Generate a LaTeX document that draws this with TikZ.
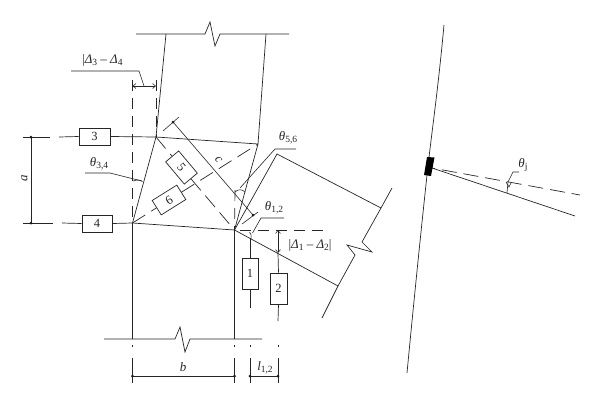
\documentclass[tikz,border=0pt]{standalone}
\usepackage{fontspec}
\setmainfont{Liberation Serif}
\newcommand{\lowidx}[1]{\raisebox{-0.35ex}{\fontsize{9.5}{10}\selectfont #1}}
\newcommand{\gr}[1]{\textit{#1}}
\usetikzlibrary{arrows.meta}
\tikzset{
  ln/.style={draw=black!85,line width=0.7pt},
  dsh/.style={ln,dash pattern=on 11pt off 7pt},
  dshlong/.style={ln,dash pattern=on 15pt off 7pt},
  thin ln/.style={draw=black!85,line width=0.6pt},
  box/.style={ln,fill=white,minimum width=#1,inner sep=0pt,font=\fontsize{12.5}{13}\selectfont,text=black!85},
  lbl/.style={inner sep=0pt,font=\fontsize{13}{14}\selectfont,text=black!85},
  dimarr/.style={thin ln,{Straight Barb[length=3pt,width=5pt]}-{Straight Barb[length=3pt,width=5pt]}},
  dot/.style={circle,fill=black!90,inner sep=0pt,minimum size=3pt},
}
\begin{document}
\begin{tikzpicture}[x=1pt,y=-1pt]
\useasboundingbox (0,0) rectangle (600,405);
% joints
\coordinate (A) at (156,137);
\coordinate (B) at (258,144);
\coordinate (C) at (132.5,223);
\coordinate (D) at (234.5,230);
% boxes
\node[box=31pt,minimum height=17pt] (b3) at (94.5,136.5) {3};
\node[box=30pt,minimum height=17pt] (b4) at (97,223.5) {4};
\node[box=29pt,minimum height=17pt,rotate=-50] (b5) at (181.5,167.5) {5};
\node[box=29pt,minimum height=17pt,rotate=32] (b6) at (169,200) {6};
\node[box=16pt,minimum height=31pt] (b1) at (250,273.5) {1};
\node[box=17pt,minimum height=31pt] (b2) at (278.5,288.5) {2};
% top member
\draw[ln] (136,34) -- (205,34) -- (210,22) -- (215,46) -- (220,34) -- (289,34);
\draw[ln] (166,34) -- (A);
\draw[ln] (266,34) -- (B);
% bottom member
\draw[ln] (104,339) -- (175,339) -- (180,327) -- (185,352) -- (190,339) -- (262,339);
\draw[ln] (C) -- (132.5,339);
\draw[ln] (D) -- (234.5,339);
% panel
\draw[ln] (A) -- (B) -- (D) -- (C) -- cycle;
% spring lines
\draw[ln] (23,137) -- (50,137);
\draw[ln] (59,137) -- (b3.west);
\draw[ln] (b3.east) -- (A);
\draw[ln] (23,223) -- (53,223);
\draw[ln] (62,223) -- (b4.west);
\draw[ln] (b4.east) -- (C);
\draw[dshlong] (A) -- (b5.west);
\draw[dshlong] (b5.east) -- (D);
\draw[dshlong] (C) -- (b6.west);
\draw[dshlong] (b6.east) -- (B);
% a dimension
\coordinate (a1) at (31,137);
\coordinate (a2) at (31,223);
\draw[thin ln] (a1) -- (a2);
\node[dot] at (a1) {};
\node[dot] at (a2) {};
\node[lbl,rotate=90] (la) at (24.5,178.5) {\textit{a}};
% verticals dashed
\draw[dsh] (132.5,80) -- (C);
\draw[dsh] (156,80) -- (A);
\draw[dimarr] (132.5,86) -- (156,86);
\draw[thin ln] (71,71) -- (139,71) -- (144,86);
\node[lbl,anchor=west] (d34) at (82,60.5) {|\gr{Δ}\lowidx{3} – \gr{Δ}\lowidx{4}};
% theta 3,4
\node[lbl] (t34) at (99,163.5) {\gr{θ}\lowidx{3,4}};
\draw[thin ln] (85,173) -- (110,173) -- (142,181);
\draw[thin ln] (133,181) .. controls (136,179.5) and (139,179.5) .. (142.5,181.5);
% c
\coordinate (c1) at (173,122);
\coordinate (c2) at (253,215);
\draw[thin ln] (c1) -- (c2);
\draw[thin ln] (163,131) -- (179,117);
\draw[thin ln] (242,224) -- (258,212);
\node[dot] at (c1) {};
\node[dot] at (c2) {};
\node[lbl,rotate=-50] (lc) at (218.5,160) {\textit{c}};
% rotated beam
\coordinate (E) at (277,154);
\coordinate (F) at (381,208);
\coordinate (G) at (338,286);
\draw[ln] (D) -- (E) -- (F);
\draw[ln] (D) -- (G);
\draw[ln] (392,188) -- (F) -- (362,242) -- (372,252) -- (347,245) -- (355,255) -- (G) -- (322,318);
% theta 5,6
\draw[dsh] (235,190) -- (D);
\draw[thin ln] (240,188) -- (275,149) -- (296,149);
\draw[thin ln] (235,192) .. controls (238,189) and (242,189) .. (245,192);
\node[lbl] (t56) at (288,137.5) {\gr{θ}\lowidx{5,6}};
% theta 1,2
\draw[dsh] (D) ++(5,0.4) -- (328,230.4);
\draw[thin ln] (284,218) -- (261,218) -- (252.5,233);
\draw[thin ln] (249.5,232) .. controls (251,234) and (252,236) .. (251,239);
\node[lbl] (t12) at (274,208) {\gr{θ}\lowidx{1,2}};
% 1, 2 rods
\draw[ln] (250,238) -- (b1.north);
\draw[ln] (b1.south) -- (250,308);
\draw[ln] (278,253) -- (b2.north);
\draw[ln] (b2.south) -- (278,321);
\draw[dimarr] (278,230) -- (278,253);
\node[lbl] (d12) at (310,245.5) {|\gr{Δ}\lowidx{1} – \gr{Δ}\lowidx{2}|};
% bottom dimensions
\foreach \x in {132.5,234.5,250,278} {
  \draw[thin ln] (\x,358) -- (\x,383);
  \draw[thin ln] (\x,345) -- (\x,346.5);
}
\coordinate (e1) at (132.5,376);
\coordinate (e2) at (234.5,376);
\coordinate (e3) at (250,376);
\coordinate (e4) at (278,376);
\draw[thin ln] (e1) -- (e2);
\draw[thin ln] (e3) -- (e4);
\foreach \p in {e1,e2,e3,e4} \node[dot] at (\p) {};
\node[lbl] (lb) at (183,367) {\textit{b}};
\node[lbl] (ll) at (265,368) {\textit{l}\lowidx{1,2}};
% right figure
\draw[ln] (444,25) .. controls (438,90) and (432,130) .. (428,166) .. controls (421,230) and (413,310) .. (407,373);
\fill[black] (427,157) -- (434.5,157.5) -- (431,176) -- (424,175) -- cycle;
\coordinate (R) at (432,168);
\coordinate (S) at (575,216);
\coordinate (T) at (580,195);
\draw[ln] (R) -- (S);
\draw[dshlong,dash phase=-10pt] (R) -- (T);
\draw[thin ln] (507,193) -- (508,182) -- (513,172) -- (519,172);
\draw[thin ln] (506,182) -- (509,187) -- (511,183);
\node[lbl] (tj) at (523,165) {\gr{θ}\lowidx{j}};
\end{tikzpicture}
\end{document}
